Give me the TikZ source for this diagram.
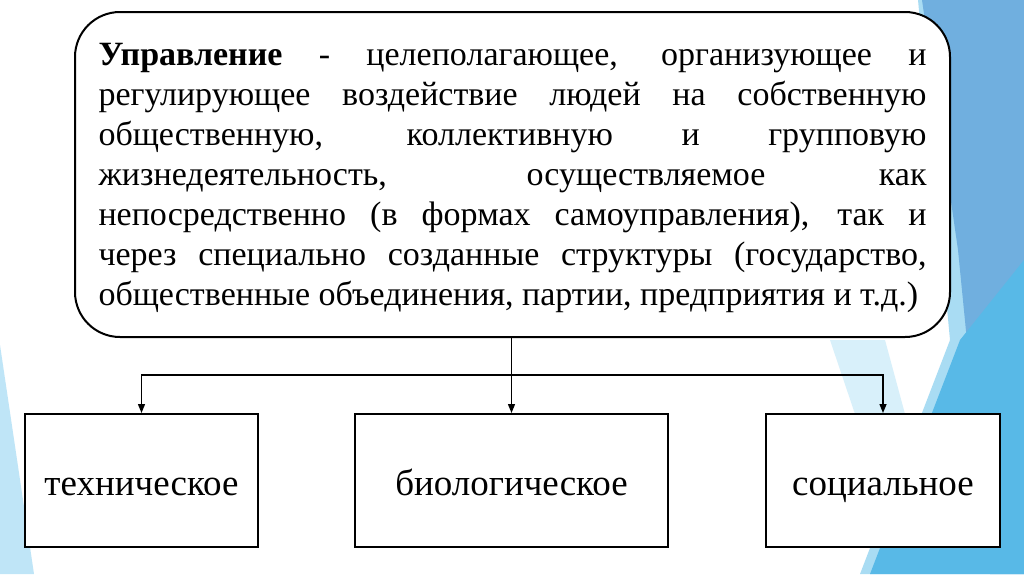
\documentclass[tikz,border=0pt]{standalone}
\usepackage{fontspec}
\setmainfont{Liberation Serif}
\usepackage{tikz}
\usetikzlibrary{arrows.meta, positioning, calc}

\definecolor{facetlight}{HTML}{A9DCF3}
\definecolor{facetmid}{HTML}{70AFDF}
\definecolor{facetbright}{HTML}{58B9E7}
\definecolor{facetpale}{HTML}{D8F0FA}
\definecolor{facetleft}{HTML}{BFE5F7}

\begin{document}
\begin{tikzpicture}[
    x=1pt, y=-1pt,
    defbox/.style={rectangle, draw, line width=2pt, rounded corners=45pt, fill=white, align=justify,
        text width=828pt, inner xsep=23.5pt, minimum height=325pt,
        font=\fontsize{34}{40}\selectfont},
    kindbox/.style={rectangle, draw, line width=2pt, fill=white, minimum height=133pt,
        text height=29pt, text depth=0pt, font=\fontsize{37}{44}\selectfont},
    arrow/.style={-{Triangle[length=9pt, width=7pt]}, line width=1.3pt},
]
\useasboundingbox (0,0) rectangle (1024,574);
\fill[white] (0,0) rectangle (1024,574);

% background facets
\fill[facetlight] (918,0) -- (1024,0) -- (1024,574) -- (860,574) -- (950,340) -- cycle;
\fill[facetmid] (922,0) -- (1024,0) -- (1024,574) -- (990,574) -- (958,250) -- cycle;
\fill[facetbright] (1024,260) -- (1024,574) -- (870,574) -- (960,340) -- cycle;
\fill[facetpale] (830,340) -- (885,340) -- (905,414) -- (855,414) -- cycle;
\fill[facetleft] (0,345) -- (34,574) -- (0,574) -- cycle;

% Definition
\node[defbox] (def) at (512.5,174.5) {\rule{0pt}{30pt}\textbf{Управление} - целеполагающее, организующее и\linebreak
регулирующее воздействие людей на собственную\linebreak
общественную, коллективную и групповую\linebreak
жизнедеятельность, осуществляемое как\linebreak
непосредственно (в формах самоуправления), так и\linebreak
через специально созданные структуры (государство,\linebreak
общественные объединения, партии, предприятия и т.д.)};

% Kinds
\node[kindbox, minimum width=233pt] (tech) at (141.5,480.5) {техническое};
\node[kindbox, minimum width=313pt] (bio) at (511.5,480.5) {биологическое};
\node[kindbox, minimum width=234pt] (soc) at (883,480.5) {социальное};

% Connectors
\coordinate (fork) at (511.5,375);
\draw[arrow] (def.south -| bio.north) -- (bio.north);
\draw[arrow] (fork) -| (tech.north);
\draw[arrow] (fork) -| (soc.north);
\end{tikzpicture}
\end{document}
